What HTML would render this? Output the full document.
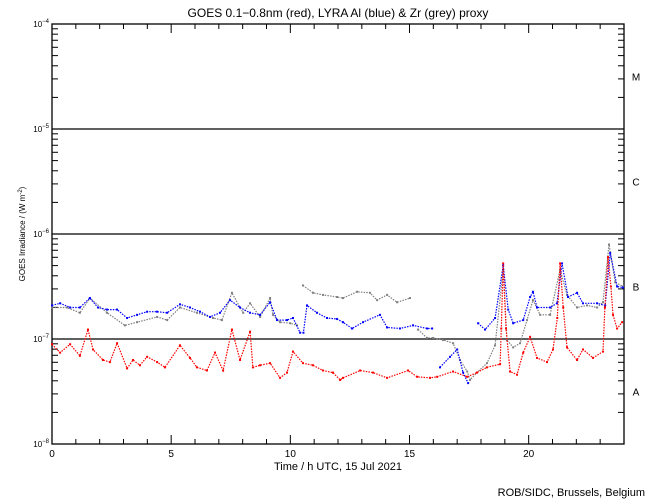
<!DOCTYPE html>
<html><head><meta charset="utf-8"><style>
body{margin:0;background:#fff;}
svg{display:block;font-family:"Liberation Sans",sans-serif;}
</style></head><body>
<svg id="chart" width="650" height="500" viewBox="0 0 650 500" xmlns="http://www.w3.org/2000/svg">
<rect width="650" height="500" fill="#fff"/>
<text x="338" y="17" font-size="12" text-anchor="middle">GOES 0.1−0.8nm (red), LYRA Al (blue) &amp; Zr (grey) proxy</text>
<text transform="translate(25,234) rotate(-90)" font-size="8" text-anchor="middle">GOES Irradiance / (W m<tspan dy="-3" font-size="6">-2</tspan><tspan dy="3">)</tspan></text>
<text x="338" y="470" font-size="11" text-anchor="middle">Time / h UTC, 15 Jul 2021</text>
<text x="645" y="496" font-size="11" text-anchor="end">ROB/SIDC, Brussels, Belgium</text>
<g id="axes"></g>
<g id="series"></g>
</svg>
<script>
const xTickLabels = ["0","5","10","15","20"];
const yDecades = [-4,-5,-6,-7,-8];
const classLabels = ["M","C","B","A"];
const redHours = [0,0.34,0.76,1.17,1.51,1.72,2.14,2.43,2.73,3.15,3.40,3.69,3.99,4.41,4.74,5.37,5.79,6.08,6.50,6.84,7.18,7.55,7.89,8.31,8.43,8.73,9.15,9.57,9.86,10.11,10.53,10.95,11.37,11.79,12.09,12.21,12.93,13.47,14.06,14.94,15.32,15.86,16.16,16.83,17.42,17.83,18.25,18.80,18.85,18.93,19.05,19.22,19.51,19.77,20.06,20.35,20.77,21.02,21.20,21.32,21.45,21.61,22.03,22.28,22.70,23.12,23.20,23.33,23.45,23.54,23.71,23.92];
const redLog = [-7.05,-7.13,-7.05,-7.16,-6.91,-7.10,-7.20,-7.22,-7.04,-7.28,-7.20,-7.25,-7.17,-7.22,-7.27,-7.06,-7.18,-7.27,-7.30,-7.13,-7.30,-6.91,-7.20,-6.93,-7.27,-7.25,-7.23,-7.37,-7.32,-7.12,-7.23,-7.25,-7.30,-7.32,-7.39,-7.37,-7.30,-7.32,-7.37,-7.30,-7.36,-7.37,-7.36,-7.31,-7.36,-7.32,-7.27,-7.24,-6.90,-6.28,-6.90,-7.31,-7.34,-7.13,-6.98,-7.18,-7.22,-7.10,-6.80,-6.28,-6.70,-7.08,-7.20,-7.10,-7.18,-7.12,-6.70,-6.22,-6.50,-6.77,-6.90,-6.84];
const blueHours = [0,0.34,0.76,1.17,1.59,1.93,2.31,2.73,3.15,3.57,3.99,4.41,4.83,5.37,5.79,6.21,6.63,7.05,7.47,7.89,8.31,8.73,9.15,9.44,9.86,10.11,10.41,10.55,10.70,11.12,11.54,11.96,12.21,12.59,13.05,13.76,14.06,14.60,15.15,15.74,15.95,null,16.28,16.70,17.00,17.25,17.46,null,17.88,18.17,18.59,18.93,19.14,19.35,19.77,20.06,20.18,20.35,20.90,21.19,21.40,21.65,22.03,22.28,22.87,23.21,23.42,23.71,23.96];
const blueLog = [-6.68,-6.66,-6.70,-6.70,-6.61,-6.70,-6.72,-6.72,-6.80,-6.77,-6.74,-6.74,-6.75,-6.67,-6.70,-6.74,-6.79,-6.75,-6.63,-6.70,-6.75,-6.77,-6.65,-6.82,-6.82,-6.80,-6.94,-6.94,-6.68,-6.75,-6.80,-6.81,-6.84,-6.90,-6.84,-6.77,-6.89,-6.90,-6.87,-6.90,-6.90,null,-7.27,-7.17,-7.10,-7.32,-7.42,null,-6.85,-6.91,-6.80,-6.30,-6.72,-6.85,-6.82,-6.60,-6.55,-6.70,-6.70,-6.66,-6.28,-6.60,-6.56,-6.66,-6.66,-6.68,-6.18,-6.50,-6.51];
const greyHours = [0,0.63,1.17,1.59,2.31,3.06,3.57,4.41,4.83,5.37,6.08,6.76,7.13,7.55,8.02,8.31,8.73,9.15,9.27,9.57,9.99,10.28,null,10.53,10.95,11.37,11.96,12.21,12.80,13.34,13.64,14.06,14.48,15.02,null,15.36,15.74,15.99,16.41,16.83,17.12,17.42,17.54,17.83,18.25,18.59,18.93,19.09,19.35,19.64,19.93,20.18,20.48,20.90,21.32,21.61,22.03,22.45,22.87,23.12,23.37,23.63,23.96];
const greyLog = [-6.70,-6.70,-6.75,-6.61,-6.75,-6.87,-6.84,-6.79,-6.82,-6.70,-6.75,-6.80,-6.82,-6.56,-6.75,-6.66,-6.79,-6.61,-6.77,-6.84,-6.85,-6.87,null,-6.49,-6.56,-6.58,-6.60,-6.61,-6.55,-6.56,-6.63,-6.58,-6.65,-6.61,null,-6.91,-6.99,-6.99,-7.01,-7.04,-7.20,-7.31,-7.39,-7.32,-7.23,-7.06,-6.34,-7.01,-7.08,-7.04,-6.82,-6.63,-6.77,-6.77,-6.34,-6.58,-6.70,-6.68,-6.70,-6.65,-6.10,-6.46,-6.50];

const X0=52,X1=624,Y0=24,Y1=444;
const xs = h => X0 + h*(X1-X0)/24;
const ys = lg => Y0 + (-4 - lg)*(Y1-Y0)/4;
const NS="http://www.w3.org/2000/svg";
const axes=document.getElementById('axes');
const ser=document.getElementById('series');
function mk(tag,attrs,parent){const e=document.createElementNS(NS,tag);for(const k in attrs)e.setAttribute(k,attrs[k]);parent.appendChild(e);return e;}

// frame
const frame=mk('rect',{x:X0,y:Y0,width:X1-X0,height:Y1-Y0,fill:'none',stroke:'#000','stroke-width':1.3},axes);


// class boundary lines
[-5,-6,-7].forEach(d=>{
  const l=mk('line',{x1:X0,x2:X1,y1:ys(d),y2:ys(d),stroke:'#000','stroke-width':1.2},axes);
  
  
});
// x ticks
for(let h=1;h<24;h++){
  const len=(h%5===0)?9:5;
  const x=xs(h);
  const t1=mk('line',{x1:x,x2:x,y1:Y1,y2:Y1-len,stroke:'#000'},axes);
  
  
  const t2=mk('line',{x1:x,x2:x,y1:Y0,y2:Y0+len,stroke:'#000'},axes);
  
  
}
xTickLabels.forEach(s=>{
  const t=mk('text',{x:xs(+s),y:Y1+13,'font-size':10,'text-anchor':'middle'},axes);
  t.textContent=s;
  
  
});
// y ticks
yDecades.forEach(d=>{
  if(d>-8){
    for(let m=2;m<=9;m++){
      const y=ys(d-1+Math.log10(m));
      const a=mk('line',{x1:X0,x2:X0+6,y1:y,y2:y,stroke:'#000'},axes);
      
      
      const b=mk('line',{x1:X1,x2:X1-6,y1:y,y2:y,stroke:'#000'},axes);
      
      
    }
  }
  const t=mk('text',{x:X0-3,y:ys(d)+3,'font-size':8,'text-anchor':'end'},axes);
  
  
  t.textContent='10';
  const sp=mk('tspan',{dy:-4,'font-size':6},t);
  sp.textContent='−'+(-d);
});
classLabels.forEach((c,i)=>{
  const t=mk('text',{x:636,y:ys(-4.5-i)+4,'font-size':10,'text-anchor':'middle'},axes);
  t.textContent=c;
  
  
});
// series
function draw(hours,logs,color,name){
  const g=mk('g',{},ser);
  
  
  let pts=[];
  const flush=()=>{ if(pts.length>1){const p=mk('polyline',{points:pts.join(' '),fill:'none',stroke:color,'stroke-width':1.2,'stroke-dasharray':'1.5 1.2'},g);
    
    } pts=[]; };
  for(let i=0;i<hours.length;i++){
    if(hours[i]===null||logs[i]===null){flush();continue;}
    const x=xs(hours[i]),y=ys(logs[i]);
    pts.push(x.toFixed(1)+','+y.toFixed(1));
    const r=mk('rect',{x:x-1,y:y-1,width:2,height:2,fill:color},g);
    
    
  }
  flush();
}
draw(greyHours,greyLog,'#808080','zr-grey-series');
draw(blueHours,blueLog,'#0000ff','al-blue-series');
draw(redHours,redLog,'#ff0000','goes-red-series');
</script>
</body></html>
